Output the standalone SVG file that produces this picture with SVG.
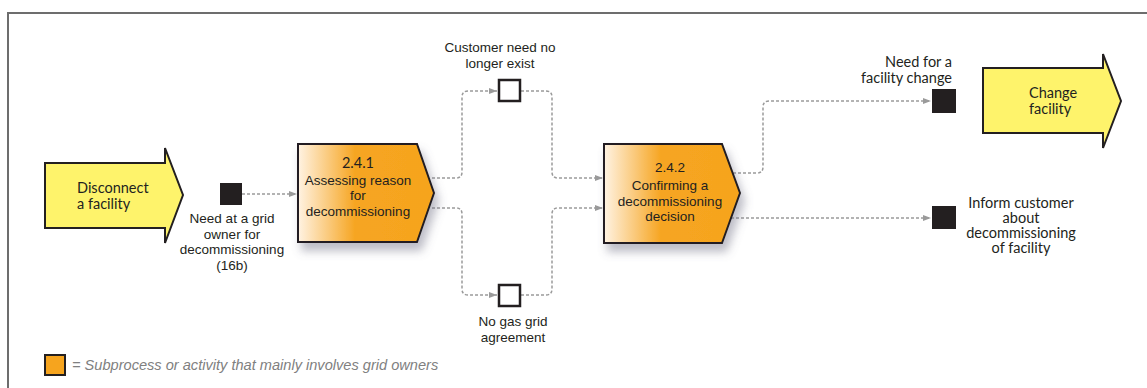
<svg xmlns="http://www.w3.org/2000/svg" width="1147" height="388" viewBox="0 0 1147 388">
<style>
.gs{font-family:Lato,"Liberation Sans",sans-serif;font-size:14.5px;fill:#231f20}
.cb{font-family:"Liberation Sans",Arial,sans-serif;font-size:13.5px;fill:#231f20;text-anchor:middle}
.conn{fill:none;stroke:#9a9a9a;stroke-width:1.5;stroke-dasharray:3 2}
.ev{fill:#231f20}
.evw{fill:#fff;stroke:#231f20;stroke-width:2.5}
.big{fill:#fef36b;stroke:#231f20;stroke-width:2;stroke-linejoin:miter}
.proc{fill:url(#og);stroke:#231f20;stroke-width:2}
.legend{font-family:"Liberation Sans",Arial,sans-serif;font-style:italic;font-size:14.6px;fill:#808080}
</style>
<defs>
<linearGradient id="og" x1="0" y1="0" x2="1" y2="0">
<stop offset="0" stop-color="#fff3e3"/>
<stop offset="0.42" stop-color="#f6a521"/>
<stop offset="1" stop-color="#f6a41e"/>
</linearGradient>
<filter id="sh" x="-20%" y="-20%" width="150%" height="160%">
<feDropShadow dx="4" dy="8" stdDeviation="5" flood-color="#6a6a80" flood-opacity="0.45"/>
</filter>
<marker id="ah" markerWidth="8" markerHeight="6" refX="8" refY="3" orient="auto" markerUnits="userSpaceOnUse">
<path d="M0,0 L8,3 L0,6 z" fill="#9a9a9a"/>
</marker>
</defs>
<rect width="1147" height="388" fill="#fff"/>
<path d="M8,388 V13 H1147" fill="none" stroke="#6d6d6d" stroke-width="2"/>

<g id="connectors">
<path class="conn" d="M242,194 H297" marker-end="url(#ah)"/>
<path class="conn" d="M432,178 H456 Q462,178 462,172 V97 Q462,91 468,91 H497" marker-end="url(#ah)"/>
<path class="conn" d="M521,91 H546 Q552,91 552,97 V172 Q552,178 558,178 H603" marker-end="url(#ah)"/>
<path class="conn" d="M432,208 H456 Q462,208 462,214 V289 Q462,295 468,295 H497" marker-end="url(#ah)"/>
<path class="conn" d="M521,295 H546 Q552,295 552,289 V214 Q552,208 558,208 H603" marker-end="url(#ah)"/>
<path class="conn" d="M733,173 H757 Q763,173 763,167 V107 Q763,101 769,101 H931" marker-end="url(#ah)"/>
<path class="conn" d="M731,218 H931" marker-end="url(#ah)"/>
</g>

<g id="disconnect">
<path class="big" d="M45,163 H165 V148 L183,195 L165,243 V228 H45 Z"/>
<text class="gs" x="77" y="193">Disconnect</text>
<text class="gs" x="77" y="209">a facility</text>
</g>

<g id="need-grid-owner">
<rect class="ev" x="220" y="183" width="22" height="22"/>
<text class="cb" x="232" y="223">Need at a grid</text>
<text class="cb" x="232" y="238.5">owner for</text>
<text class="cb" x="232" y="254">decommissioning</text>
<text class="cb" x="232" y="269.5">(16b)</text>
</g>

<g id="p241">
<path class="proc" filter="url(#sh)" d="M298,144 H417 L434,193 L417,242 H298 Z"/>
<text class="gs" x="358" y="168" text-anchor="middle" font-size="14">2.4.1</text>
<text class="cb" x="358" y="184.5">Assessing reason</text>
<text class="cb" x="358" y="200">for</text>
<text class="cb" x="358" y="215.5">decommissioning</text>
</g>

<g id="customer-need">
<rect class="evw" x="499" y="80" width="21" height="21"/>
<text class="cb" x="500" y="52">Customer need no</text>
<text class="cb" x="500" y="67.5">longer exist</text>
</g>

<g id="no-gas-grid">
<rect class="evw" x="499" y="285" width="21" height="21"/>
<text class="cb" x="513" y="326">No gas grid</text>
<text class="cb" x="513" y="341.5">agreement</text>
</g>

<g id="p242">
<path class="proc" filter="url(#sh)" d="M604,144 H722 L740,193 L722,243 H604 Z"/>
<text class="cb" x="670" y="172">2.4.2</text>
<text class="cb" x="670" y="190">Confirming a</text>
<text class="cb" x="670" y="205.5">decommissioning</text>
<text class="cb" x="670" y="221">decision</text>
</g>

<g id="need-facility-change">
<rect class="ev" x="932" y="89" width="24" height="24"/>
<text class="gs" x="952" y="67" text-anchor="end">Need for a</text>
<text class="gs" x="952" y="83" text-anchor="end">facility change</text>
</g>

<g id="inform-customer">
<rect class="ev" x="932" y="206" width="24" height="23"/>
<text class="gs" x="1021" y="208" text-anchor="middle">Inform customer</text>
<text class="gs" x="1021" y="223" text-anchor="middle">about</text>
<text class="gs" x="1021" y="238" text-anchor="middle">decommissioning</text>
<text class="gs" x="1021" y="253" text-anchor="middle">of facility</text>
</g>

<g id="change-facility">
<path class="big" d="M983,68 H1103 V54 L1121,101 L1103,148 V133 H983 Z"/>
<text class="gs" x="1029" y="98">Change</text>
<text class="gs" x="1029" y="114">facility</text>
</g>

<g id="legend">
<rect x="45" y="355" width="20" height="20" fill="#f6a41e" stroke="#231f20" stroke-width="2"/>
<text class="legend" x="72" y="370">= Subprocess or activity that mainly involves grid owners</text>
</g>
</svg>
